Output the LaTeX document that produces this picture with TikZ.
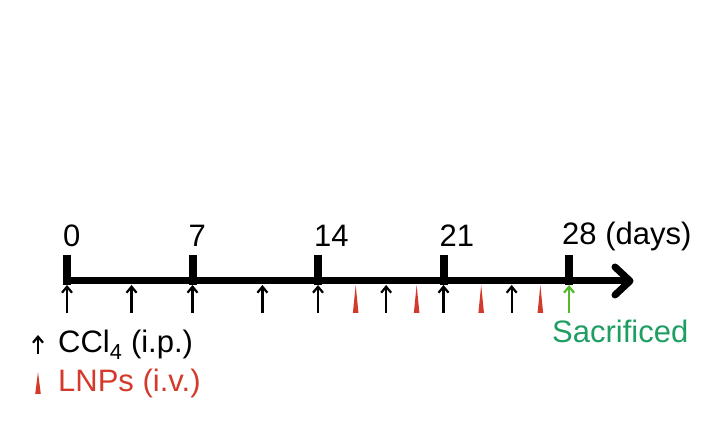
\documentclass[tikz,border=0pt]{standalone}
\usepackage{fontspec}
\setmainfont{Liberation Sans}
\usepackage{tikz}
\usetikzlibrary{calc,arrows.meta}
\definecolor{ink}{HTML}{000000}
\definecolor{lnpred}{HTML}{D33A2C}
\definecolor{sacarrow}{HTML}{52BA2A}
\definecolor{sactext}{HTML}{1E9E63}
\newcommand{\labsize}{\fontsize{31}{36}\selectfont}
\tikzset{
  axisline/.style={draw=ink, line width=7pt},
  tickbar/.style={fill=ink, minimum width=8pt, minimum height=30pt, inner sep=0pt, anchor=south},
  daylab/.style={anchor=base west, inner sep=0pt, font=\labsize, text=ink},
  ccl/.style={draw=ink, line width=2.2pt, -{Straight Barb[length=6pt,width=10pt]}},
  sac/.style={draw=sacarrow, line width=2.2pt, -{Straight Barb[length=6pt,width=10pt]}},
  lnp/.style={fill=lnpred},
}

\begin{document}
\begin{tikzpicture}[x=1pt,y=1pt]
  \useasboundingbox (0,0) rectangle (703,443);
  \def\xo{67}
  \def\dx{17.93}

  % time axis
  \coordinate (start) at (63,162);
  \coordinate (tip) at (630,162);
  \draw[axisline] (start) -- (tip);
  \draw[axisline, line join=round, line cap=round] ($(tip)+(-15,14)$) -- (tip) -- ($(tip)+(-15,-14)$);

  % weekly ticks
  \foreach \d in {0,7,14,21,28} {
    \node[tickbar] (t\d) at ({\xo+\d*\dx},158) {};
  }
  \node[daylab] (l0) at ($(t0.north)+(-4,8)$) {0};
  \node[daylab] (l7) at ($(t7.north)+(-4,8)$) {7};
  \node[daylab] (l14) at ($(t14.north)+(-4,8)$) {14};
  \node[daylab] (l21) at ($(t21.north)+(-4,8)$) {21};
  \node[daylab] (l28) at ($(t28.north)+(-7,10)$) {28 (days)};

  % CCl4 injections
  \foreach \d [count=\i] in {0,3.6,7,10.9,14,17.8,21,24.8} {
    \coordinate (c\i a) at ({\xo+\d*\dx},130);
    \coordinate (c\i b) at ({\xo+\d*\dx},158);
    \draw[ccl] (c\i a) -- (c\i b);
  }

  % LNP doses
  \foreach \d in {16.1,19.5,23.1,26.4} {
    \fill[lnp] ({\xo+\d*\dx-2.8},130) -- ({\xo+\d*\dx},158) -- ({\xo+\d*\dx+2.8},130) -- cycle;
  }

  % end point
  \coordinate (s a) at ({\xo+28*\dx},130);
  \coordinate (s b) at ({\xo+28*\dx},158);
  \draw[sac] (s a) -- (s b);
  \node[daylab, text=sactext] (sac) at (552,100) {Sacrificed};

  % legend
  \coordinate (k a) at (38,89);
  \coordinate (k b) at (38,108);
  \draw[ccl] (k a) -- (k b);
  \node[daylab] (kccl) at (58,90) {CCl\textsubscript{4} (i.p.)};
  \fill[lnp] (35.2,49) -- (38,71) -- (40.8,49) -- cycle;
  \node[daylab, text=lnpred] (klnp) at (58,51) {LNPs (i.v.)};
\end{tikzpicture}
\end{document}
